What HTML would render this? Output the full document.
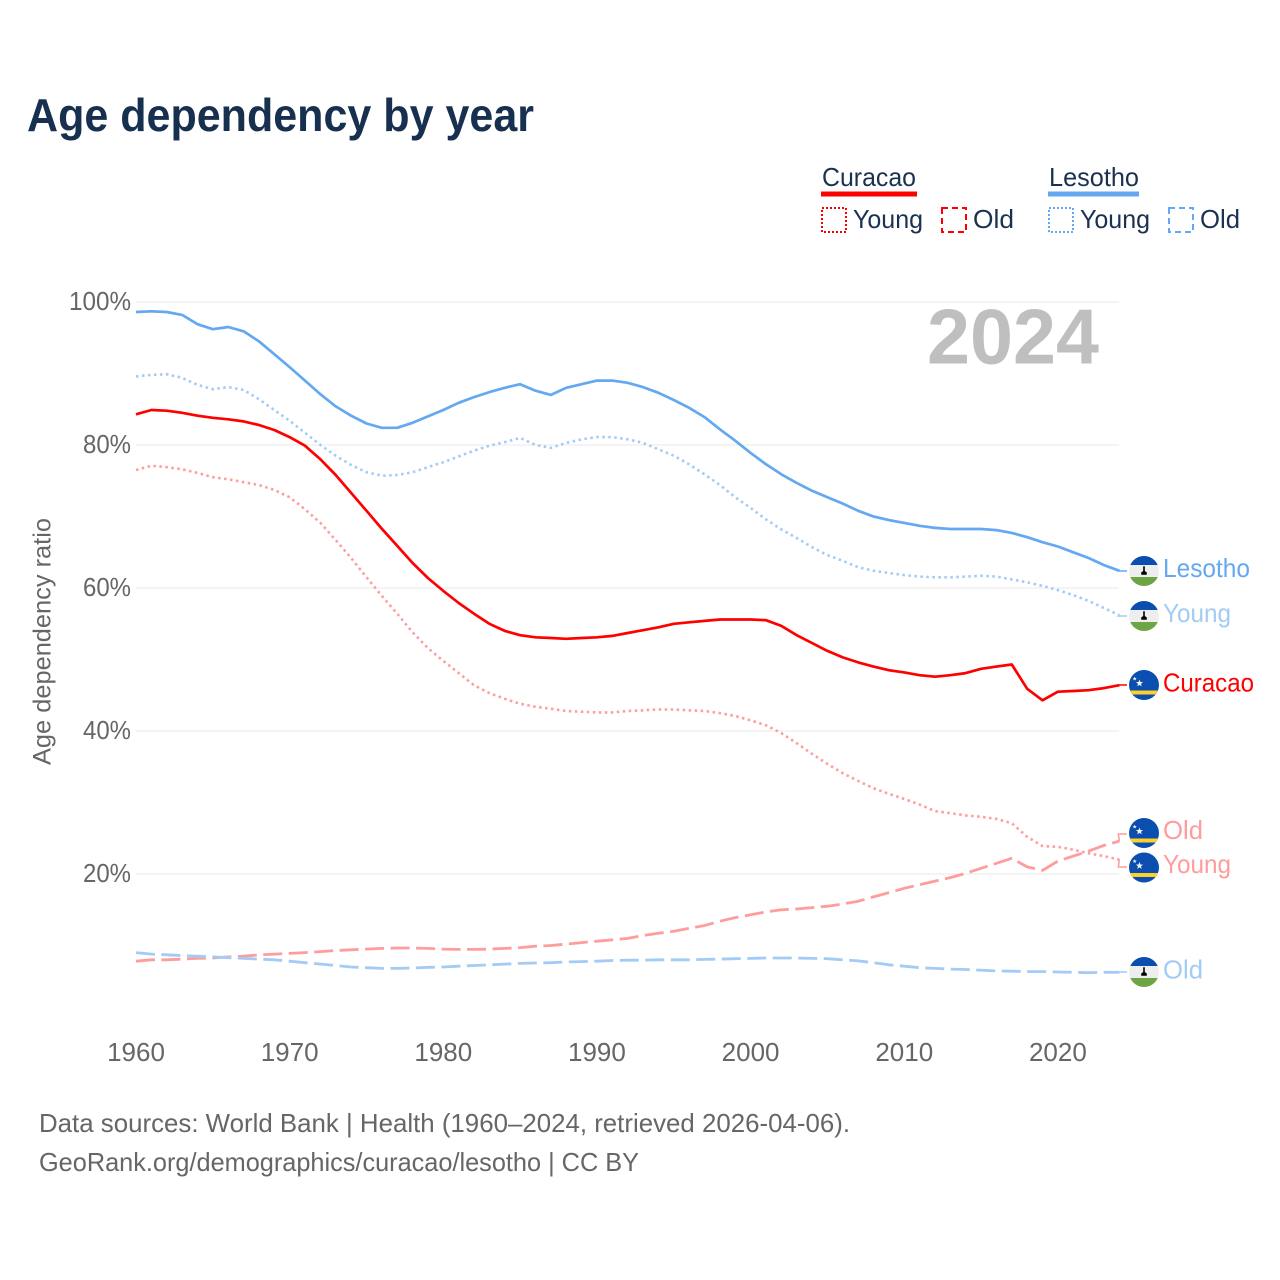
<!DOCTYPE html>
<html lang="en">
<head>
<meta charset="utf-8">
<title>Age dependency by year</title>
<style>
html,body{margin:0;padding:0;background:#fff;width:1280px;height:1280px;overflow:hidden}
svg{display:block}
text{font-family:"Liberation Sans",sans-serif}
</style>
</head>
<body>
<svg id="chart" xmlns="http://www.w3.org/2000/svg" width="1280" height="1280" viewBox="0 0 1280 1280">
  <rect x="0" y="0" width="1280" height="1280" fill="#fff"/>
  <text x="27" y="131" font-size="46" font-weight="700" fill="#17304f" textLength="507" lengthAdjust="spacingAndGlyphs">Age dependency by year</text>

  <g font-size="26" fill="#1b3152">
    <text x="822" y="186" textLength="94" lengthAdjust="spacingAndGlyphs">Curacao</text>
    <rect x="821" y="191.500" width="96" height="5" fill="#ff0000"/>
    <rect x="822" y="208" width="24" height="24" fill="none" stroke="#ff0000" stroke-width="2" stroke-dasharray="2 2"/>
    <text x="853" y="228" textLength="70" lengthAdjust="spacingAndGlyphs">Young</text>
    <rect x="942" y="208" width="24" height="24" fill="none" stroke="#ff0000" stroke-width="2" stroke-dasharray="6 4"/>
    <text x="973" y="228" textLength="41" lengthAdjust="spacingAndGlyphs">Old</text>
    <text x="1049" y="186" textLength="90" lengthAdjust="spacingAndGlyphs">Lesotho</text>
    <rect x="1048" y="191.500" width="91" height="5" fill="#63a8f0"/>
    <rect x="1049" y="208" width="24" height="24" fill="none" stroke="#63a8f0" stroke-width="2" stroke-dasharray="2 2"/>
    <text x="1080" y="228" textLength="70" lengthAdjust="spacingAndGlyphs">Young</text>
    <rect x="1169" y="208" width="24" height="24" fill="none" stroke="#63a8f0" stroke-width="2" stroke-dasharray="6 4"/>
    <text x="1200" y="228" textLength="40" lengthAdjust="spacingAndGlyphs">Old</text>
  </g>

  <g id="grid"></g>
  <g id="yticks"></g>
  <g id="xticks"></g>
  <text transform="translate(50.500,641.500) rotate(-90)" text-anchor="middle" font-size="25" fill="#666" textLength="247" lengthAdjust="spacingAndGlyphs">Age dependency ratio</text>
  <text x="927" y="363.500" font-size="78" font-weight="700" fill="#bfbfbf" textLength="172" lengthAdjust="spacingAndGlyphs">2024</text>
  <g id="series"></g>
  <g id="flags"></g>

  <g font-size="26">
    <text x="1163" y="577" fill="#63a8f0" textLength="87" lengthAdjust="spacingAndGlyphs">Lesotho</text>
    <text x="1163" y="622" fill="#a2cbf5" textLength="68" lengthAdjust="spacingAndGlyphs">Young</text>
    <text x="1163" y="691.500" fill="#ff0000" textLength="91" lengthAdjust="spacingAndGlyphs">Curacao</text>
    <text x="1163" y="839" fill="#ff9c9c" textLength="40" lengthAdjust="spacingAndGlyphs">Old</text>
    <text x="1163" y="873" fill="#ff9c9c" textLength="68" lengthAdjust="spacingAndGlyphs">Young</text>
    <text x="1163" y="978.500" fill="#a2cbf5" textLength="40" lengthAdjust="spacingAndGlyphs">Old</text>
  </g>

  <text x="39" y="1132" font-size="26" fill="#666" textLength="811" lengthAdjust="spacingAndGlyphs">Data sources: World Bank | Health (1960–2024, retrieved 2026-04-06).</text>
  <text x="39" y="1171" font-size="26" fill="#666" textLength="600" lengthAdjust="spacingAndGlyphs">GeoRank.org/demographics/curacao/lesotho | CC BY</text>
</svg>
<script>
const startYear = 1960;
const xTickLabels = [1960, 1970, 1980, 1990, 2000, 2010, 2020];
const yTickLabels = [20, 40, 60, 80, 100];

const lesothoTotal = [98.6,98.7,98.6,98.2,96.9,96.2,96.5,95.9,94.5,92.7,90.9,89,87.1,85.4,84.1,83,82.4,82.4,83.1,84,84.9,85.9,86.7,87.4,88,88.5,87.6,87,88,88.5,89,89,88.7,88.1,87.3,86.3,85.2,83.9,82.2,80.6,78.9,77.3,75.9,74.7,73.6,72.7,71.8,70.8,70,69.5,69.1,68.7,68.4,68.25,68.25,68.25,68.1,67.7,67.1,66.4,65.8,65,64.2,63.2,62.4];
const lesothoYoung = [89.6,89.8,89.9,89.4,88.4,87.8,88.1,87.7,86.4,84.9,83.4,81.7,80,78.5,77.2,76.2,75.7,75.8,76.2,76.9,77.6,78.4,79.2,79.9,80.4,81,80,79.6,80.3,80.8,81.1,81.1,80.8,80.3,79.4,78.5,77.3,75.9,74.4,72.7,71.2,69.6,68.2,67,65.7,64.6,63.8,62.9,62.4,62.1,61.8,61.6,61.5,61.5,61.6,61.7,61.6,61.2,60.8,60.3,59.7,59,58.2,57.2,56.2];
const lesothoOld = [9,8.8,8.7,8.6,8.5,8.4,8.3,8.2,8.1,8,7.8,7.6,7.4,7.2,7,6.9,6.8,6.8,6.85,6.95,7,7.1,7.2,7.3,7.4,7.5,7.55,7.6,7.7,7.75,7.8,7.9,7.95,7.95,8,8,8,8.05,8.1,8.15,8.2,8.25,8.25,8.25,8.2,8.15,8,7.85,7.6,7.3,7.1,6.9,6.8,6.7,6.65,6.55,6.45,6.4,6.35,6.35,6.3,6.25,6.2,6.25,6.25];
const curacaoTotal = [84.3,84.9,84.8,84.5,84.1,83.8,83.6,83.3,82.8,82.1,81.1,79.9,78,75.8,73.3,70.8,68.3,65.9,63.5,61.4,59.6,57.9,56.4,55,54,53.4,53.1,53,52.9,53,53.1,53.3,53.7,54.1,54.5,55,55.2,55.4,55.6,55.6,55.6,55.5,54.7,53.4,52.3,51.2,50.3,49.6,49,48.5,48.2,47.8,47.6,47.8,48.1,48.7,49,49.3,45.9,44.3,45.5,45.6,45.7,46,46.4];
const curacaoYoung = [76.5,77.1,76.9,76.6,76.1,75.5,75.2,74.8,74.4,73.7,72.7,71,69.1,66.7,64.2,61.5,58.9,56.4,53.8,51.6,49.8,48.1,46.4,45.3,44.5,43.8,43.4,43.1,42.8,42.7,42.6,42.6,42.8,42.9,43,43,42.9,42.8,42.5,42.1,41.5,40.8,39.7,38.3,36.8,35.4,34.1,33,32,31.2,30.5,29.7,28.8,28.5,28.2,28,27.7,27.1,25.2,23.9,23.8,23.4,22.9,22.5,22];
const curacaoOld = [7.8,8,8,8.1,8.2,8.25,8.4,8.5,8.7,8.8,8.9,9,9.15,9.3,9.4,9.5,9.6,9.65,9.65,9.6,9.5,9.45,9.45,9.5,9.6,9.7,9.9,10,10.2,10.4,10.6,10.8,11,11.4,11.7,12,12.4,12.8,13.4,13.9,14.3,14.7,15,15.1,15.3,15.5,15.8,16.2,16.8,17.4,18,18.5,19,19.5,20.1,20.8,21.5,22.2,21,20.5,21.8,22.5,23.2,24,24.6];

const NS = 'http://www.w3.org/2000/svg';
function xScale(year) { return 136 + (year - 1960) * 15.365; }
function yScale(v) { return 1017 - v * 7.15; }
function make(tag, attrs, parent) {
  const el = document.createElementNS(NS, tag);
  for (const k in attrs) el.setAttribute(k, attrs[k]);
  parent.appendChild(el);
  return el;
}

const gridG = document.getElementById('grid');
const yG = document.getElementById('yticks');
const xG = document.getElementById('xticks');
yTickLabels.forEach(function (t) {
  const line = make('line', {x1: 136, x2: 1119, y1: yScale(t), y2: yScale(t), stroke: '#e8e8e8', 'stroke-width': 1}, gridG);
  
  
  const label = make('text', {x: 131, y: yScale(t) + 8, 'text-anchor': 'end', 'font-size': 26, fill: '#666'}, yG);
  
  
  label.setAttribute('textLength', t === 100 ? 62 : 48);
  label.setAttribute('lengthAdjust', 'spacingAndGlyphs');
  label.textContent = t + '%';
});
xTickLabels.forEach(function (t) {
  const label = make('text', {x: xScale(t), y: 1061, 'text-anchor': 'middle', 'font-size': 26, fill: '#666'}, xG);
  
  
  label.textContent = t;
});

const seriesG = document.getElementById('series');
function drawSeries(values, color, dash, width, name, labelY) {
  const pts = values.map(function (v, i) {
    return xScale(startYear + i).toFixed(1) + ',' + yScale(v).toFixed(1);
  }).join(' ');
  const attrs = {points: pts, fill: 'none', stroke: color, 'stroke-width': width, 'stroke-linejoin': 'round'};
  if (dash) attrs['stroke-dasharray'] = dash;
  const line = make('polyline', attrs, seriesG);
  
  
  const lastX = xScale(startYear + values.length - 1);
  const lastY = yScale(values[values.length - 1]);
  const conn = make('polyline', {
    points: lastX + ',' + lastY + ' ' + (lastX - 1) + ',' + labelY + ' 1127,' + labelY,
    fill: 'none', stroke: color, 'stroke-width': 1.5
  }, seriesG);
  
  
}
drawSeries(curacaoOld, '#ff9c9c', '19 6.5', 2.8, 'line-curacao-old', 834);
drawSeries(lesothoOld, '#a2cbf5', '19 6.5', 2.8, 'line-lesotho-old', 972);
drawSeries(curacaoYoung, '#ff9c9c', '2.5 3.5', 2.6, 'line-curacao-young', 867);
drawSeries(lesothoYoung, '#a2cbf5', '2.5 3.5', 2.6, 'line-lesotho-young', 616);
drawSeries(curacaoTotal, '#ff0000', '', 2.7, 'line-curacao-total', 685);
drawSeries(lesothoTotal, '#63a8f0', '', 2.7, 'line-lesotho-total', 571);

const flagsG = document.getElementById('flags');
const defs = make('defs', {}, flagsG);
const clip = make('clipPath', {id: 'flag-clip'}, defs);
make('circle', {cx: 0, cy: 0, r: 15}, clip);
function star(cx, cy, r) {
  const p = [];
  for (let i = 0; i < 10; i++) {
    const a = -Math.PI / 2 + i * Math.PI / 5;
    const q = i % 2 ? r * 0.42 : r;
    p.push((cx + q * Math.cos(a)).toFixed(2) + ',' + (cy + q * Math.sin(a)).toFixed(2));
  }
  return p.join(' ');
}
function drawLesothoFlag(cy) {
  const g = make('g', {transform: 'translate(1144,' + cy + ')', 'clip-path': 'url(#flag-clip)'}, flagsG);
  
  
  make('rect', {x: -15, y: -15, width: 30, height: 30, fill: '#eeeeee'}, g);
  make('rect', {x: -15, y: -15, width: 30, height: 9, fill: '#0a4fb0'}, g);
  make('rect', {x: -15, y: 6, width: 30, height: 9, fill: '#6da544'}, g);
  make('path', {d: 'M-0.8 -4.800h1.600v4.800l2 1.500v2.300h-5.600v-2.300l2 -1.500z', fill: '#000'}, g);
}
function drawCuracaoFlag(cy) {
  const g = make('g', {transform: 'translate(1144,' + cy + ')', 'clip-path': 'url(#flag-clip)'}, flagsG);
  
  
  make('rect', {x: -15, y: -15, width: 30, height: 30, fill: '#0a4fb0'}, g);
  make('rect', {x: -15, y: 5.500, width: 30, height: 4, fill: '#ffd02b'}, g);
  make('polygon', {points: star(-4.500, -1.700, 3.800), fill: '#f4f4f4'}, g);
  make('polygon', {points: star(-9.300, -6.300, 2.200), fill: '#f4f4f4'}, g);
}
drawLesothoFlag(571);
drawLesothoFlag(616);
drawCuracaoFlag(685);
drawCuracaoFlag(833);
drawCuracaoFlag(867.5);
drawLesothoFlag(972);
</script>
</body>
</html>
